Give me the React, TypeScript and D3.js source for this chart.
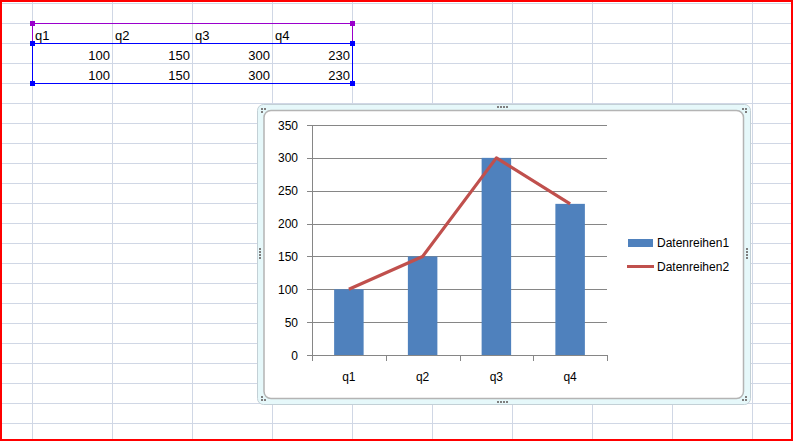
import React from "react";
import * as d3 from "d3";

const categories = ["q1", "q2", "q3", "q4"];
const series1 = [100, 150, 300, 230];
const series2 = [100, 150, 300, 230];
const seriesNames = ["Datenreihen1", "Datenreihen2"];
const yTicks = [0, 50, 100, 150, 200, 250, 300, 350];

const W = 793;
const H = 441;
const GRID = "#d0d7e5";
const BAR = "#4f81bd";
const LINE = "#c0504d";
const AXIS = "#868686";
const FONT = "'Liberation Sans', Arial, sans-serif";

export default function App() {
  const x = d3.scaleBand<string>().domain(categories).range([312, 607]).paddingInner(0).paddingOuter(0);
  const y = d3.scaleLinear().domain([0, 350]).range([355, 125]);
  const barW = x.bandwidth() * 0.4;
  const crisp = (v: number) => Math.round(v) + 0.5;

  const lineGen = d3
    .line<number>()
    .x((_, i) => (x(categories[i]) as number) + x.bandwidth() / 2)
    .y((d) => y(d));

  // spreadsheet grid
  const cols = d3.range(0, 10).map((k) => 32.5 + 80 * k);
  const rows = d3.range(0, 22).map((k) => 3.5 + 20 * k);

  // table cell layout
  const colLeft = [32, 112, 192, 272];
  const tableRows = [series1, series2];

  const handle = (cx: number, cy: number, fill: string, key: string) => (
    <rect key={key} x={cx - 2.5} y={cy - 2.5} width={5} height={5} fill={fill} />
  );

  const dots: [number, number][] = [
    // top middle
    [497, 106], [500, 106], [503, 106], [506, 106],
    // bottom middle
    [497, 401], [500, 401], [503, 401], [506, 401],
    // left middle
    [259, 248], [259, 251], [259, 254], [259, 257],
    // right middle
    [746, 248], [746, 251], [746, 254], [746, 257],
    // corners
    [261, 108], [264, 108], [261, 111],
    [742, 108], [745, 108], [745, 111],
    [261, 396], [261, 399], [264, 399],
    [745, 396], [745, 399], [742, 399],
  ];

  return (
    <div style={{ position: "fixed", left: 0, top: 0, width: W, height: H }}>
      <svg width={W} height={H} style={{ display: "block" }}>
        <rect x={0} y={0} width={W} height={H} fill="#ffffff" />
        {/* spreadsheet gridlines */}
        {cols.map((cx, i) => (
          <line key={"c" + i} x1={cx} x2={cx} y1={0} y2={H} stroke={GRID} strokeWidth={1} />
        ))}
        {rows.map((ry, i) => (
          <line key={"r" + i} x1={0} x2={W} y1={ry} y2={ry} stroke={GRID} strokeWidth={1} />
        ))}

        {/* table contents */}
        {categories.map((c, i) => (
          <text key={"h" + i} x={colLeft[i] + 3} y={39.5} fontFamily={FONT} fontSize={13} fill="#000">
            {c}
          </text>
        ))}
        {tableRows.map((row, r) =>
          row.map((v, i) => (
            <text
              key={"v" + r + "-" + i}
              x={colLeft[i] + 78}
              y={59.5 + r * 20}
              textAnchor="end"
              fontFamily={FONT}
              fontSize={13}
              fill="#000"
            >
              {v}
            </text>
          ))
        )}

        {/* selection outlines */}
        <path d="M32.5,43.5 V23.5 H352.5 V43.5" fill="none" stroke="#9a00cc" strokeWidth={1} />
        <rect x={32.5} y={43.5} width={320} height={40} fill="none" stroke="#0000ff" strokeWidth={1} />
        {handle(32.5, 23.5, "#9a00cc", "h1")}
        {handle(352.5, 23.5, "#9a00cc", "h2")}
        {handle(32.5, 43.5, "#0000ff", "h3")}
        {handle(352.5, 43.5, "#0000ff", "h4")}
        {handle(32.5, 83.5, "#0000ff", "h5")}
        {handle(352.5, 83.5, "#0000ff", "h6")}

        {/* chart frame */}
        <rect x={257.5} y={104.5} width={493} height={300} rx={6} fill="#e6f8fa" stroke="#c3d0d6" strokeWidth={1} />
        <rect x={264} y={110.5} width={479.5} height={288} rx={7} fill="#ffffff" stroke="#b4b4b4" strokeWidth={1.5} />
        {dots.map(([dx, dy], i) => (
          <rect key={"d" + i} x={dx} y={dy} width={2} height={2} fill="#7f7f7f" />
        ))}

        {/* horizontal gridlines */}
        {yTicks.map((t) => (
          <line key={"g" + t} x1={312} x2={607} y1={crisp(y(t))} y2={crisp(y(t))} stroke={AXIS} strokeWidth={1} />
        ))}
        {/* y axis */}
        <line x1={312.5} x2={312.5} y1={crisp(y(350))} y2={crisp(y(0))} stroke={AXIS} strokeWidth={1} />
        {yTicks.map((t) => (
          <g key={"yt" + t}>
            <line x1={307} x2={312} y1={crisp(y(t))} y2={crisp(y(t))} stroke={AXIS} strokeWidth={1} />
            <text x={298} y={y(t) + 4.5} textAnchor="end" fontFamily={FONT} fontSize={12} fill="#000">
              {t}
            </text>
          </g>
        ))}

        {/* bars */}
        {series1.map((v, i) => {
          const bx = (x(categories[i]) as number) + (x.bandwidth() - barW) / 2;
          return (
            <rect key={"b" + i} x={bx} y={y(v)} width={barW} height={y(0) - y(v)} fill={BAR} />
          );
        })}

        {/* x axis */}
        <line x1={312} x2={607.5} y1={crisp(y(0))} y2={crisp(y(0))} stroke={AXIS} strokeWidth={1} />
        {[...categories.map((c) => x(c) as number), 607].map((tx, i) => (
          <line key={"xt" + i} x1={crisp(tx)} x2={crisp(tx)} y1={355} y2={361} stroke={AXIS} strokeWidth={1} />
        ))}
        {categories.map((c) => (
          <text
            key={"xl" + c}
            x={(x(c) as number) + x.bandwidth() / 2}
            y={381}
            textAnchor="middle"
            fontFamily={FONT}
            fontSize={12}
            fill="#000"
          >
            {c}
          </text>
        ))}

        {/* line series */}
        <path d={lineGen(series2) || ""} fill="none" stroke={LINE} strokeWidth={3.2} strokeLinejoin="round" />

        {/* legend */}
        <rect x={628} y={239} width={25} height={8} fill={BAR} />
        <text x={657} y={247} fontFamily={FONT} fontSize={12} fill="#000">
          {seriesNames[0]}
        </text>
        <line x1={627} x2={654} y1={266.5} y2={266.5} stroke={LINE} strokeWidth={3} />
        <text x={657} y={270.5} fontFamily={FONT} fontSize={12} fill="#000">
          {seriesNames[1]}
        </text>

        {/* red outer border */}
        <rect x={1} y={1} width={W - 2} height={H - 2} fill="none" stroke="#ff0000" strokeWidth={2} />
      </svg>
    </div>
  );
}
